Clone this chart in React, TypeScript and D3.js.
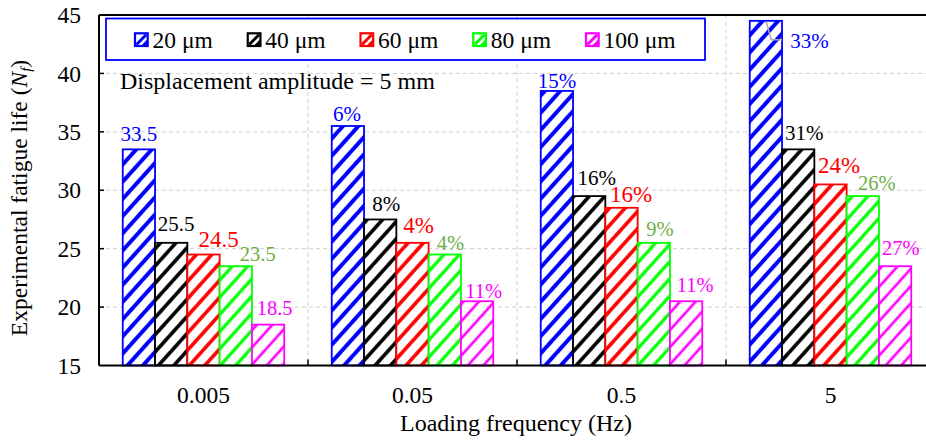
import React from "react";
import * as d3 from "d3";

// ---------- data ----------
const categories = ["0.005", "0.05", "0.5", "5"];
const seriesNames = ["20 μm", "40 μm", "60 μm", "80 μm", "100 μm"];
const life20 = [33.5, 35.5, 38.5, 44.5];
const life40 = [25.5, 27.5, 29.5, 33.5];
const life60 = [24.5, 25.5, 28.5, 30.5];
const life80 = [23.5, 24.5, 25.5, 29.5];
const life100 = [18.5, 20.5, 20.5, 23.5];
const labels20 = ["33.5", "6%", "15%", "33%"];
const labels40 = ["25.5", "8%", "16%", "31%"];
const labels60 = ["24.5", "4%", "16%", "24%"];
const labels80 = ["23.5", "4%", "9%", "26%"];
const labels100 = ["18.5", "11%", "11%", "27%"];
const yTicks = [15, 20, 25, 30, 35, 40, 45];

const seriesValues = [life20, life40, life60, life80, life100];
const seriesLabels = [labels20, labels40, labels60, labels80, labels100];

// ---------- style / layout ----------
const W = 926;
const H = 441;
const M = { left: 99, right: 935, top: 15, bottom: 365.5 };
const barColors = ["#0000FF", "#000000", "#FF0000", "#00FF00", "#FF00FF"];
const labelColors = ["#0000FF", "#000000", "#FF0000", "#70AD47", "#FF00FF"];
const labelSizes = [21, 21, 23, 20.5, 20.5];
const stripeWidths = [4, 3.6, 3.6, 3.2, 2.6];
const FONT = '"Liberation Serif", "DejaVu Serif", serif';

// label nudges [series][category] : [dx, dy] relative to bar top-center
const labelNudge = [
  [[0, -8], [-1, -5], [0, -2.5], [43.5, 27.5]],
  [[5, -11.5], [6, -8], [7.5, -11.5], [6, -9]],
  [[15, -7.5], [6, -10], [9.5, -6], [8.5, -11.5]],
  [[22, -5], [5.5, -5], [6, -6.5], [14, -6.5]],
  [[6.5, -10], [6.5, -3.5], [9, -9], [5.6, -11]],
];

export default function App() {
  const x0 = d3.scaleBand<string>().domain(categories).range([M.left, M.right]).padding(0);
  const x1 = d3
    .scaleBand<string>()
    .domain(seriesNames)
    .range([0, x0.bandwidth()])
    .paddingInner(0)
    .paddingOuter(0.735);
  const y = d3.scaleLinear().domain([15, 45]).range([M.bottom, M.top]);

  const P = 11.5;
  const T = { fontFamily: FONT };

  return (
    <svg
      width={W}
      height={H}
      style={{ position: "absolute", left: 0, top: 0, background: "#fff", fontFamily: FONT }}
    >
      <defs>
        {barColors.map((c, i) => (
          <pattern
            key={i}
            id={`hatch-${i}`}
            patternUnits="userSpaceOnUse"
            width={P}
            height={P}
            patternTransform="rotate(42)"
          >
            <rect width={P} height={P} fill="#fff" />
            <line x1={P / 2} y1={0} x2={P / 2} y2={P} stroke={c} strokeWidth={stripeWidths[i]} />
          </pattern>
        ))}
      </defs>
      <rect x={0} y={0} width={W} height={H} fill="#fff" />

      {/* gridlines */}
      {yTicks
        .filter((t) => t > 15 && t < 45)
        .map((t) => (
          <line
            key={"gy" + t}
            x1={M.left}
            x2={M.right}
            y1={y(t)}
            y2={y(t)}
            stroke="#d0d0d0"
            strokeWidth={1}
            strokeDasharray="4,3"
          />
        ))}
      {categories.slice(1).map((c) => (
        <line
          key={"gx" + c}
          x1={x0(c)!}
          x2={x0(c)!}
          y1={M.top}
          y2={M.bottom}
          stroke="#d0d0d0"
          strokeWidth={1}
          strokeDasharray="4,3"
        />
      ))}

      {/* bars */}
      {categories.map((c, ci) =>
        seriesNames.map((s, si) => {
          const v = seriesValues[si][ci];
          const bx = x0(c)! + x1(s)!;
          const by = y(v);
          return (
            <rect
              key={c + s}
              x={bx}
              y={by}
              width={x1.bandwidth()}
              height={M.bottom - by}
              fill={`url(#hatch-${si})`}
              stroke={barColors[si]}
              strokeWidth={1.8}
            />
          );
        })
      )}

      {/* leader line for 33% */}
      {(() => {
        const bx = x0(categories[3])! + x1(seriesNames[0])!;
        const by = y(life20[3]);
        const bw = x1.bandwidth();
        return (
          <polyline
            points={`${bx + 16.5},${by + 1} ${bx + 21.5},${by + 19} ${bx + bw},${by + 19}`}
            fill="none"
            stroke="#a6a6a6"
            strokeWidth={1.5}
          />
        );
      })()}

      {/* bar labels */}
      {categories.map((c, ci) =>
        seriesNames.map((s, si) => {
          const v = seriesValues[si][ci];
          const cx = x0(c)! + x1(s)! + x1.bandwidth() / 2;
          const [dx, dy] = labelNudge[si][ci];
          return (
            <text
              key={"l" + c + s}
              x={cx + dx}
              y={y(v) + dy}
              textAnchor="middle"
              fontSize={labelSizes[si]}
              fill={labelColors[si]}
              style={T}
            >
              {seriesLabels[si][ci]}
            </text>
          );
        })
      )}

      {/* axes frame */}
      <line x1={M.left} x2={M.right} y1={M.top} y2={M.top} stroke="#000" strokeWidth={2} />
      <line x1={M.left} x2={M.right} y1={M.bottom} y2={M.bottom} stroke="#000" strokeWidth={2} />
      <line x1={M.left} x2={M.left} y1={M.top} y2={M.bottom} stroke="#000" strokeWidth={2} />
      <line x1={M.right} x2={M.right} y1={M.top} y2={M.bottom} stroke="#000" strokeWidth={2} />

      {/* y ticks */}
      {yTicks.map((t) => (
        <g key={"yt" + t}>
          {t > 15 && t < 45 && (
            <line x1={M.left} x2={M.left + 5} y1={y(t)} y2={y(t)} stroke="#000" strokeWidth={1.5} />
          )}
          <text x={81} y={y(t)} dy="0.35em" textAnchor="end" fontSize={23.5} fill="#000" style={T}>
            {t}
          </text>
        </g>
      ))}

      {/* x ticks */}
      {categories.slice(1).map((c) => (
        <line
          key={"xt" + c}
          x1={x0(c)!}
          x2={x0(c)!}
          y1={M.bottom}
          y2={M.bottom - 6}
          stroke="#000"
          strokeWidth={1.5}
        />
      ))}
      {categories.map((c) => (
        <text
          key={"xl" + c}
          x={x0(c)! + x0.bandwidth() / 2}
          y={403}
          textAnchor="middle"
          fontSize={23.5}
          fill="#000"
          style={T}
        >
          {c}
        </text>
      ))}

      {/* axis titles */}
      <text x={516} y={431} textAnchor="middle" fontSize={24} fill="#000" style={T}>
        Loading frequency (Hz)
      </text>
      <text
        transform="translate(27,198) rotate(-90)"
        textAnchor="middle"
        fontSize={23.5}
        fill="#000"
        style={T}
      >
        Experimental fatigue life (<tspan fontStyle="italic">N</tspan>
        <tspan fontStyle="italic" fontSize={15} dy={4}>
          f
        </tspan>
        <tspan dy={-4}>)</tspan>
      </text>

      {/* annotation */}
      <text x={120} y={89} fontSize={24} fill="#000" style={T}>
        Displacement amplitude = 5 mm
      </text>

      {/* legend */}
      <rect x={106} y={18.5} width={599} height={41.5} fill="#fff" stroke="#0000FF" strokeWidth={1.8} />
      {seriesNames.map((s, i) => {
        const lx = 135 + i * 112.75;
        const ly = 33.3;
        const sz = 12.7;
        return (
          <g key={"lg" + s}>
            <rect x={lx} y={ly} width={sz} height={sz} fill="#fff" stroke={barColors[i]} strokeWidth={2.2} />
            <line x1={lx + 1.5} y1={ly + sz - 1.5} x2={lx + sz - 1.5} y2={ly + 1.5} stroke={barColors[i]} strokeWidth={3} />
            <polygon
              points={`${lx + sz},${ly + sz * 0.45} ${lx + sz},${ly + sz} ${lx + sz * 0.45},${ly + sz}`}
              fill={barColors[i]}
            />
            <text x={lx + 17.5} y={48.3} fontSize={23.5} fill="#000" style={T}>
              {s}
            </text>
          </g>
        );
      })}
    </svg>
  );
}
